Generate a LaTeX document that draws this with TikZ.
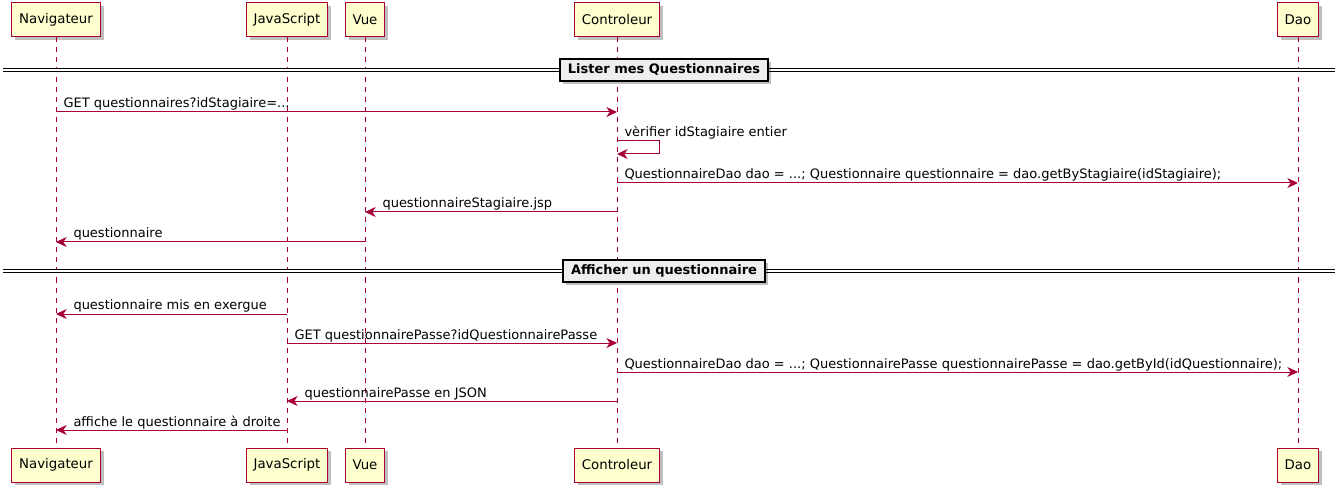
\documentclass[tikz,border=0pt]{standalone}
\usepackage{fontspec}
\setmainfont{DejaVu Sans}
\usepackage{tikz}
\usetikzlibrary{arrows.meta,positioning,shadows}
\definecolor{umlred}{HTML}{A80036}
\definecolor{umlfill}{HTML}{FEFECE}
\definecolor{sepfill}{HTML}{EEEEEE}
\tikzset{
  participant/.style={draw=umlred, fill=umlfill, line width=.75pt, minimum height=25.5pt,
    inner xsep=5.5pt, font=\fontsize{10}{12}\selectfont,
    drop shadow={shadow xshift=2.5pt, shadow yshift=-2.5pt, opacity=.25, fill=black}},
  lifeline/.style={draw=umlred, line width=.75pt, dash pattern=on 3.75pt off 3.75pt},
  msg/.style={draw=umlred, line width=.75pt, -{Stealth[length=8pt,width=7.5pt,inset=2.5pt]}},
  lbl/.style={font=\fontsize{9.75}{12}\selectfont, inner sep=0pt, anchor=base west, yshift=3pt},
  sepbox/.style={draw=black, fill=sepfill, line width=1.1pt, minimum height=16.5pt,
    inner xsep=6pt, font=\bfseries\fontsize{9.75}{12}\selectfont,
    drop shadow={shadow xshift=2.5pt, shadow yshift=-2.5pt, opacity=.25, fill=black}},
  sepline/.style={draw=black, double=white, line width=.75pt, double distance=1.5pt}
}
\begin{document}
\begin{tikzpicture}[x=.75pt,y=-.75pt]
  \useasboundingbox (0,0) rectangle (1338,488);
  % participants
  \node[participant] (nav)  at (56,20)   {Navigateur};
  \node[participant] (js)   at (287,20)  {JavaScript};
  \node[participant] (vue)  at (365,20)  {Vue};
  \node[participant] (ctrl) at (617,20)  {Controleur};
  \node[participant] (dao)  at (1298,20) {Dao};
  \node[participant] (navB)  at (56,465)   {Navigateur};
  \node[participant] (jsB)   at (287,465)  {JavaScript};
  \node[participant] (vueB)  at (365,465)  {Vue};
  \node[participant] (ctrlB) at (617,465)  {Controleur};
  \node[participant] (daoB)  at (1298,465) {Dao};
  \draw[lifeline] (nav) -- (navB);
  \draw[lifeline] (js) -- (jsB);
  \draw[lifeline] (vue) -- (vueB);
  \draw[lifeline] (ctrl) -- (ctrlB);
  \draw[lifeline] (dao) -- (daoB);
  % first group
  \coordinate (s1l) at (3,70);
  \coordinate (s1r) at (1335,70);
  \draw[sepline] (s1l) -- (s1r);
  \node[sepbox] (s1) at (664,70) {Lister mes Questionnaires};
  \coordinate (m1) at (0,112);
  \coordinate (m2) at (0,141);
  \coordinate (m3) at (0,183);
  \coordinate (m4) at (0,212);
  \coordinate (m5) at (0,242);
  \draw[msg] (nav |- m1) -- node[lbl, at start, xshift=5.25pt] {GET questionnaires?idStagiaire=...} (ctrl |- m1);
  \draw[msg] (ctrl |- m2) -- node[lbl, at start, xshift=5.25pt] {vèrifier idStagiaire entier}
    ++(42,0) -- ++(0,13) -- ++(-42,0);
  \draw[msg] (ctrl |- m3) -- node[lbl, at start, xshift=5.25pt] {QuestionnaireDao dao = ...; Questionnaire questionnaire = dao.getByStagiaire(idStagiaire);} (dao |- m3);
  \draw[msg] (ctrl |- m4) -- node[lbl, at end, xshift=12.75pt] {questionnaireStagiaire.jsp} (vue |- m4);
  \draw[msg] (vue |- m5) -- node[lbl, at end, xshift=12.75pt] {questionnaire} (nav |- m5);
  % second group
  \coordinate (s2l) at (3,271);
  \coordinate (s2r) at (1335,271);
  \draw[sepline] (s2l) -- (s2r);
  \node[sepbox] (s2) at (664,271) {Afficher un questionnaire};
  \coordinate (m6) at (0,314);
  \coordinate (m7) at (0,343);
  \coordinate (m8) at (0,372);
  \coordinate (m9) at (0,401);
  \coordinate (m10) at (0,430);
  \draw[msg] (js |- m6) -- node[lbl, at end, xshift=12.75pt] {questionnaire mis en exergue} (nav |- m6);
  \draw[msg] (js |- m7) -- node[lbl, at start, xshift=5.25pt] {GET questionnairePasse?idQuestionnairePasse} (ctrl |- m7);
  \draw[msg] (ctrl |- m8) -- node[lbl, at start, xshift=5.25pt] {QuestionnaireDao dao = ...; QuestionnairePasse questionnairePasse = dao.getById(idQuestionnaire);} (dao |- m8);
  \draw[msg] (ctrl |- m9) -- node[lbl, at end, xshift=12.75pt] {questionnairePasse en JSON} (js |- m9);
  \draw[msg] (js |- m10) -- node[lbl, at end, xshift=12.75pt] {affiche le questionnaire à droite} (nav |- m10);
\end{tikzpicture}
\end{document}
